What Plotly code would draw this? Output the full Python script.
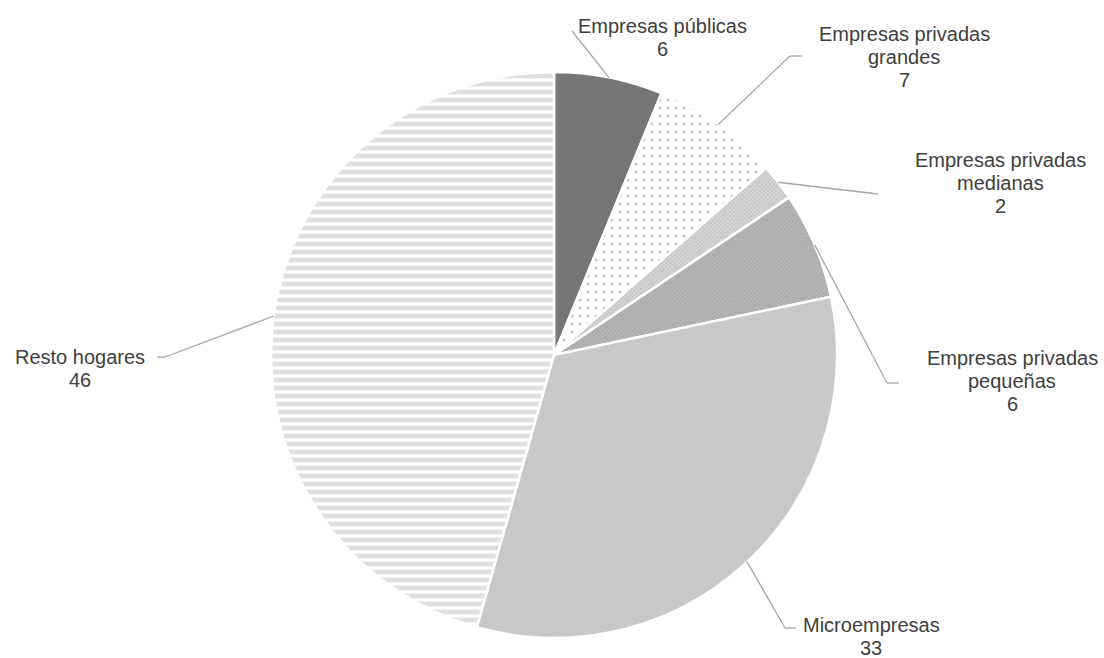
import math
import plotly.graph_objects as go

categories = ["Empresas públicas", "Empresas privadas<br>grandes", "Empresas privadas<br>medianas",
              "Empresas privadas<br>pequeñas", "Microempresas", "Resto hogares"]
values = [6.2, 7.3, 2.1, 6.1, 32.7, 45.6]

W, H = 1104, 658
CX, CY, R = 554, 355, 283

fill_colors = ["#767676", "#FFFFFF", "#DADADA", "#B8B8B8", "#C8C8C8", "#FFFFFF"]
pat_shapes = ["", ".", "x", "x", "", "-"]
pat_fg = ["#767676", "#8E8E8E", "#A8A8A8", "#999999", "#C8C8C8", "#BFBFBF"]
pat_size = [8, 8, 3, 3, 8, 8]
pat_solid = [0.3, 0.12, 0.5, 0.5, 0.3, 0.6]

fig = go.Figure(go.Pie(
    labels=[c.replace("<br>", " ") for c in categories], values=values, sort=False,
    direction="clockwise", rotation=0,
    textinfo="none", hoverinfo="label+value",
    domain=dict(x=[(CX - R) / W, (CX + R) / W], y=[(H - CY - R) / H, (H - CY + R) / H]),
    marker=dict(colors=fill_colors, line=dict(color="white", width=2.5),
                pattern=dict(shape=pat_shapes, fgcolor=pat_fg, bgcolor=fill_colors,
                             size=pat_size, solidity=pat_solid, fillmode="overlay")),
    showlegend=False,
))

# label layout (pixel positions): centre x and first-line y, elbow points of leader lines
label_pos = [(662, 26), (904, 34), (1000, 160), (1012, 358), (871, 625), (80, 357)]
line_gap = 23
elbows = [[(572, 31)], [(790, 56), (802, 56)], [(878, 194)], [(887, 383), (899, 383)],
          [(785, 628), (796, 628)], [(165, 357), (157, 357)]]

def px(x):
    return x / W

def py(y):
    return 1 - y / H

total = sum(values)
cum = 0
annotations = []
shapes = []
for i, v in enumerate(values):
    mid = (cum + v / 2) / total * 2 * math.pi
    cum += v
    ex = CX + R * math.sin(mid)
    ey = CY - R * math.cos(mid)
    pts = [(ex, ey)] + elbows[i]
    for (x0, y0), (x1, y1) in zip(pts[:-1], pts[1:]):
        shapes.append(dict(type="line", xref="paper", yref="paper",
                           x0=px(x0), y0=py(y0), x1=px(x1), y1=py(y1),
                           line=dict(color="#A6A6A6", width=1.3)))
    lx, ly = label_pos[i]
    lines = categories[i].split("<br>") + [f"{v:.0f}"]
    for k, t in enumerate(lines):
        annotations.append(dict(text=t, x=px(lx), y=py(ly + k * line_gap),
                                xref="paper", yref="paper", showarrow=False,
                                xanchor="center", yanchor="middle", align="center",
                                borderpad=0,
                                font=dict(family="Liberation Sans, Arial", size=20, color="#404040")))

fig.update_layout(width=W, height=H, margin=dict(l=0, r=0, t=0, b=0),
                  paper_bgcolor="white", plot_bgcolor="white",
                  annotations=annotations, shapes=shapes)
fig.write_html("out.html", config={"displayModeBar": False},
               post_script="document.body.style.margin='0';document.body.style.overflow='hidden';")
